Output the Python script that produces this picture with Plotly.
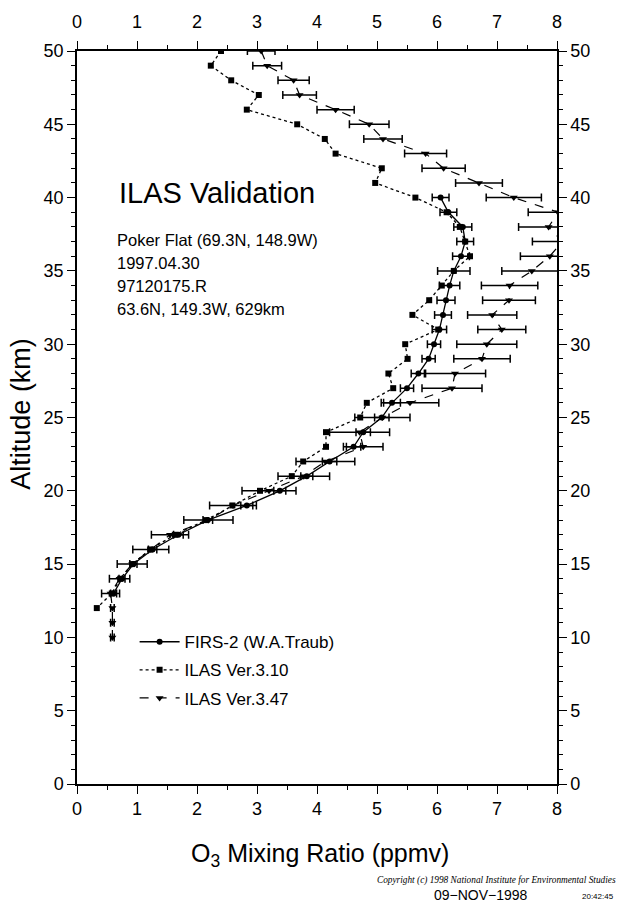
import plotly.graph_objects as go

# ---------------- data ----------------
# FIRS-2 (W.A.Traub)
firs_alt = [40, 39, 38, 37, 36, 35, 34, 33, 32, 31, 30, 29, 28, 27, 26, 25, 24, 23, 22, 21, 20, 19, 18, 17, 16, 15, 14, 13]
firs_o3 = [6.06, 6.19, 6.43, 6.47, 6.40, 6.28, 6.21, 6.15, 6.10, 6.04, 5.95, 5.86, 5.69, 5.50, 5.25, 5.08, 4.77, 4.61, 4.21, 3.83, 3.38, 2.83, 2.18, 1.69, 1.26, 0.94, 0.75, 0.61]
firs_err = [0.14, 0.14, 0.15, 0.14, 0.14, 0.27, 0.17, 0.15, 0.14, 0.12, 0.11, 0.11, 0.12, 0.11, 0.14, 0.12, 0.12, 0.12, 0.12, 0.10, 0.10, 0.10, 0.08, 0.08, 0.07, 0.06, 0.05, 0.05]

# ILAS Ver.3.10
v310_alt = [50, 49, 48, 47, 46, 45, 44, 43, 42, 41, 40, 39, 38, 37, 36, 35, 34, 33, 32, 31, 30, 29, 28, 27, 26, 25, 24, 23, 22, 21, 20, 19, 18, 17, 16, 15, 14, 13, 12]
v310_o3 = [2.40, 2.23, 2.57, 3.03, 2.83, 3.67, 4.13, 4.31, 5.08, 4.97, 5.64, 6.16, 6.38, 6.47, 6.55, 6.28, 6.08, 5.87, 5.59, 6.02, 5.47, 5.51, 5.19, 5.27, 4.83, 4.72, 4.15, 4.15, 3.77, 3.58, 3.05, 2.59, 2.15, 1.63, 1.22, 0.92, 0.72, 0.58, 0.33]

# ILAS Ver.3.47
v347_alt = [50, 49, 48, 47, 46, 45, 44, 43, 42, 41, 40, 39, 38, 37, 36, 35, 34, 33, 32, 31, 30, 29, 28, 27, 26, 25, 24, 23, 22, 21, 20, 19, 18, 17, 16, 15, 14, 13, 12, 11, 10]
v347_o3 = [3.07, 3.17, 3.61, 3.71, 4.31, 4.87, 5.10, 5.81, 6.11, 6.70, 7.28, 8.02, 7.86, 8.09, 7.88, 7.58, 7.21, 7.20, 6.92, 7.08, 6.83, 6.75, 6.30, 6.25, 5.55, 5.09, 4.71, 4.77, 4.14, 3.78, 3.20, 2.60, 2.19, 1.55, 1.23, 0.92, 0.71, 0.56, 0.59, 0.59, 0.59]
v347_err = [0.23, 0.24, 0.26, 0.28, 0.31, 0.33, 0.32, 0.35, 0.36, 0.39, 0.46, 0.50, 0.50, 0.50, 0.49, 0.50, 0.47, 0.44, 0.41, 0.40, 0.50, 0.47, 0.51, 0.50, 0.48, 0.46, 0.50, 0.33, 0.49, 0.43, 0.45, 0.39, 0.41, 0.31, 0.30, 0.25, 0.17, 0.15, 0.03, 0.03, 0.03]

x_ticks = [0, 1, 2, 3, 4, 5, 6, 7, 8]
y_ticks = [0, 5, 10, 15, 20, 25, 30, 35, 40, 45, 50]

FONT = "Liberation Sans, Arial, Helvetica, sans-serif"
INK = "black"

fig = go.Figure()

fig.add_trace(go.Scatter(
    x=firs_o3, y=firs_alt, name="FIRS-2 (W.A.Traub)", legendgroup="a",
    mode="lines+markers",
    line=dict(color=INK, width=1.3),
    marker=dict(symbol="circle", size=6, color=INK),
    error_x=dict(type="data", array=firs_err, color=INK, thickness=1.5, width=4),
))
fig.add_trace(go.Scatter(
    x=v310_o3, y=v310_alt, name="ILAS Ver.3.10", legendgroup="b",
    mode="lines+markers",
    line=dict(color=INK, width=1.3, dash="dot"),
    marker=dict(symbol="square", size=6, color=INK),
))
fig.add_trace(go.Scatter(
    x=v347_o3, y=v347_alt, name="ILAS Ver.3.47", legendgroup="c",
    mode="lines+markers",
    line=dict(color=INK, width=1.2, dash="dash"),
    marker=dict(symbol="triangle-down", size=7, color=INK),
    error_x=dict(type="data", array=v347_err, color=INK, thickness=1.5, width=4),
))
# empty trace to bring the top/right labelled axes into existence
fig.add_trace(go.Scatter(x=[], y=[], xaxis="x2", yaxis="y2", showlegend=False, hoverinfo="skip"))

common = dict(
    showline=True, linecolor=INK, linewidth=1.5,
    ticks="outside", ticklen=8, tickwidth=1.3, tickcolor=INK,
    showgrid=False, zeroline=False,
    tickfont=dict(family=FONT, size=18, color=INK),
)

fig.update_layout(
    width=621, height=905,
    margin=dict(l=77, r=64, t=51, b=121),
    paper_bgcolor="white", plot_bgcolor="white",
    font=dict(family=FONT, color=INK),
    xaxis=dict(range=[0, 8], tickvals=x_ticks, side="bottom",
               minor=dict(dtick=0.5, tick0=0, ticks="outside", ticklen=4, tickcolor=INK, tickwidth=1.1),
               **common),
    xaxis2=dict(range=[0, 8], tickvals=x_ticks, side="top", overlaying="x", anchor="y",
                ticklabelstandoff=6,
                minor=dict(dtick=0.5, tick0=0, ticks="outside", ticklen=4, tickcolor=INK, tickwidth=1.1),
                **common),
    yaxis=dict(range=[0, 50], tickvals=y_ticks, side="left",
               minor=dict(dtick=1, tick0=0, ticks="outside", ticklen=4, tickcolor=INK, tickwidth=1.1),
               **common),
    yaxis2=dict(range=[0, 50], tickvals=y_ticks, side="right", overlaying="y", anchor="x",
                minor=dict(dtick=1, tick0=0, ticks="outside", ticklen=4, tickcolor=INK, tickwidth=1.1),
                **common),
    showlegend=True,
    legend=dict(x=0.12, y=0.218, xanchor="left", yanchor="top",
                bgcolor="rgba(0,0,0,0)", font=dict(family=FONT, size=17, color=INK),
                tracegroupgap=3, itemwidth=40),
)

ann = []
ann.append(dict(text="ILAS Validation", x=0.083, y=0.806, xref="paper", yref="paper",
                xanchor="left", yanchor="middle", showarrow=False,
                font=dict(family=FONT, size=29, color=INK)))
info = ["Poker Flat (69.3N, 148.9W)", "1997.04.30", "97120175.R", "63.6N, 149.3W, 629km"]
info_y = [0.742, 0.711, 0.679, 0.648]
for t, yy in zip(info, info_y):
    ann.append(dict(text=t, x=0.079, y=yy, xref="paper", yref="paper",
                    xanchor="left", yanchor="middle", showarrow=False,
                    font=dict(family=FONT, size=16.5, color=INK)))
ann.append(dict(text="O<sub>3</sub> Mixing Ratio (ppmv)", x=0.506, y=-0.097, xref="paper", yref="paper",
                xanchor="center", yanchor="middle", showarrow=False,
                font=dict(family=FONT, size=25, color=INK)))
ann.append(dict(text="Altitude (km)", x=-0.117, y=0.505, xref="paper", yref="paper",
                xanchor="center", yanchor="middle", showarrow=False, textangle=-90,
                font=dict(family=FONT, size=27, color=INK)))
ann.append(dict(text="<i>Copyright (c) 1998 National Institute for Environmental Studies</i>",
                x=1.127, y=-0.131, xref="paper", yref="paper",
                xanchor="right", yanchor="middle", showarrow=False,
                font=dict(family="Liberation Serif, Times New Roman, serif", size=9.3, color=INK)))
ann.append(dict(text="09\u2212NOV\u22121998", x=0.842, y=-0.151, xref="paper", yref="paper",
                xanchor="center", yanchor="middle", showarrow=False,
                font=dict(family=FONT, size=14, color=INK)))
ann.append(dict(text="20:42:45", x=1.085, y=-0.153, xref="paper", yref="paper",
                xanchor="center", yanchor="middle", showarrow=False,
                font=dict(family=FONT, size=8, color=INK)))
fig.update_layout(annotations=ann)

fig.write_html("out.html")
